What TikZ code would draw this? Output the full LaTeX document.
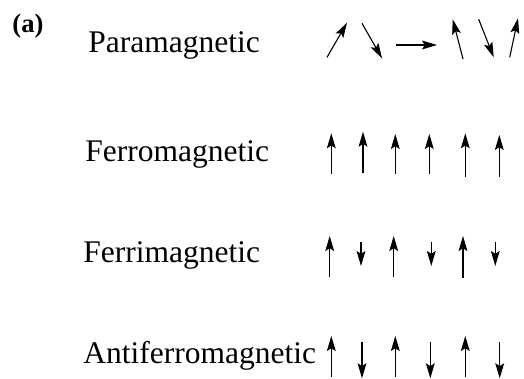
\documentclass[tikz,border=0pt]{standalone}
\usepackage{fontspec}
\setmainfont{Liberation Serif}
\usetikzlibrary{arrows.meta}

\begin{document}
\begin{tikzpicture}[x=0.5pt,y=-0.5pt,
        spin/.style={line width=0.55pt,-{Stealth[length=7.5pt,width=4.4pt,inset=1.4pt]}},
        phase/.style={anchor=base west,inner sep=0pt,font=\fontsize{15.75}{18}\selectfont}]
            \useasboundingbox (0,0) rectangle (524,379);
            \def\upy{236}   % ferri up tips
            \def\dny{341.5} % antiferro down tails
            \node[anchor=base west,inner sep=0pt,font=\fontsize{13.3}{16}\selectfont\bfseries] (panel) at (12,33) {(a)};
            \node[phase] (para) at (88,53) {Paramagnetic};
            \node[phase] (ferro) at (85,162) {Ferromagnetic};
            \node[phase] (ferri) at (83,263) {Ferrimagnetic};
            \node[phase] (antiferro) at (83,363) {Antiferromagnetic};
            % random spins
            \foreach \xa/\ya/\xb/\yb in {327/57.3/347/22.7, 362/23.3/382/58.3, 396.3/45/437/45,
                463/59/452.7/19.3, 478.7/19.3/493.7/57.3, 509.7/57.3/518/18.3} {
                \draw[spin] (\xa,\ya) -- (\xb,\yb);
            };
            % parallel spins
            \foreach \x/\t/\b in {331.3/133.3/174, 363/131.7/172.7, 395.3/134/174,
                429.3/134/174, 465.3/133.3/176.7, 499.3/135/176.7} {
                \draw[spin] (\x,\b) -- (\x,\t);
            };
            % unequal antiparallel spins
            \foreach \x/\b in {329.7/276.7, 393.7/276.7, 463/278} {
                \draw[spin] (\x,\b) -- (\x,\upy);
            };
            \foreach \x in {361, 431.3, 495.3} {
                \draw[spin] (\x,241.7) -- (\x,266);
            };
            % equal antiparallel spins
            \foreach \x in {331.3, 395.3, 465.3} {
                \draw[spin] (\x,376.7) -- (\x,336);
            };
            \foreach \x in {362, 430.3, 499.7} {
                \draw[spin] (\x,\dny) -- (\x,378.3);
            };
        \end{tikzpicture}
\end{document}
